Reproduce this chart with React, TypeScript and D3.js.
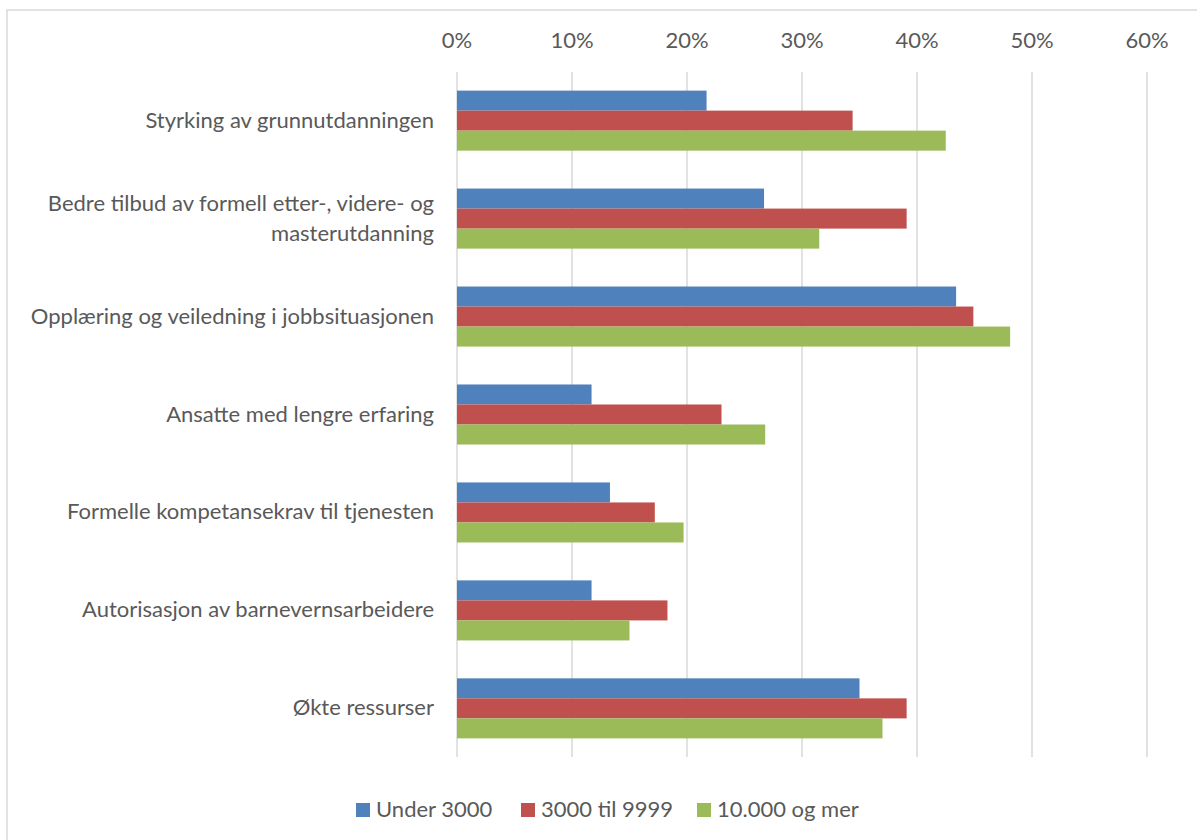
import React from "react";
import * as d3 from "d3";

const categories = [
  "Styrking av grunnutdanningen",
  "Bedre tilbud av formell etter-, videre- og masterutdanning",
  "Opplæring og veiledning i jobbsituasjonen",
  "Ansatte med lengre erfaring",
  "Formelle kompetansekrav til tjenesten",
  "Autorisasjon av barnevernsarbeidere",
  "Økte ressurser",
];
const categoryLines = [
  ["Styrking av grunnutdanningen"],
  ["Bedre tilbud av formell etter-, videre- og", "masterutdanning"],
  ["Opplæring og veiledning i jobbsituasjonen"],
  ["Ansatte med lengre erfaring"],
  ["Formelle kompetansekrav til tjenesten"],
  ["Autorisasjon av barnevernsarbeidere"],
  ["Økte ressurser"],
];
const seriesNames = ["Under 3000", "3000 til 9999", "10.000 og mer"];
const seriesColors = ["#4f81bd", "#c0504d", "#9bbb59"];
const under3000 = [0.217, 0.267, 0.434, 0.117, 0.133, 0.117, 0.35];
const s3000to9999 = [0.344, 0.391, 0.449, 0.23, 0.172, 0.183, 0.391];
const s10000plus = [0.425, 0.315, 0.481, 0.268, 0.197, 0.15, 0.37];
const tickValues = [0, 0.1, 0.2, 0.3, 0.4, 0.5, 0.6];

const W = 1197;
const H = 840;
const FONT = "Lato, 'Open Sans', sans-serif";
const TEXT = "#595959";
const FS = 22;

export default function App() {
  const x = d3.scaleLinear().domain([0, 0.6]).range([457, 1147]);
  const y = d3.scaleBand<string>().domain(categories).range([72, 757]).paddingInner(0.387).paddingOuter(0.19);
  const inner = d3.scaleBand<string>().domain(seriesNames).range([0, y.bandwidth()]);
  const series = [under3000, s3000to9999, s10000plus];
  const fmt = d3.format(".0%");
  const legendX = [356, 521, 697];

  return (
    <svg width={W} height={H} style={{ position: "absolute", left: 0, top: 0 }} fontFamily={FONT}>
      <rect x={0} y={0} width={W} height={H} fill="#fff" />
      <rect x={7} y={10} width={1200} height={840} fill="none" stroke="#d9d9d9" strokeWidth={1.5} />
      {tickValues.map((t) => (
        <g key={t}>
          <line x1={x(t)} x2={x(t)} y1={72} y2={757} stroke="#d9d9d9" strokeWidth={1.5} />
          <text x={x(t)} y={48} textAnchor="middle" fontSize={FS} fill={TEXT}>
            {fmt(t)}
          </text>
        </g>
      ))}
      {categories.map((c, i) => {
        const lines = categoryLines[i];
        const cy = y(c)! + y.bandwidth() / 2;
        return (
          <g key={c}>
            {series.map((s, j) => (
              <rect
                key={j}
                x={x(0)}
                y={y(c)! + inner(seriesNames[j])!}
                width={x(s[i]) - x(0)}
                height={inner.bandwidth()}
                fill={seriesColors[j]}
              />
            ))}
            {lines.map((ln, k) => (
              <text
                key={k}
                x={434}
                y={cy + (k - (lines.length - 1) / 2) * 30 + 7}
                textAnchor="end"
                fontSize={FS}
                fill={TEXT}
              >
                {ln}
              </text>
            ))}
          </g>
        );
      })}
      {seriesNames.map((n, j) => {
        const lx = legendX[j];
        return (
          <g key={n}>
            <rect x={lx} y={803} width={14} height={14} fill={seriesColors[j]} />
            <text x={lx + 20} y={817} fontSize={FS} fill={TEXT}>
              {n}
            </text>
          </g>
        );
      })}
    </svg>
  );
}
